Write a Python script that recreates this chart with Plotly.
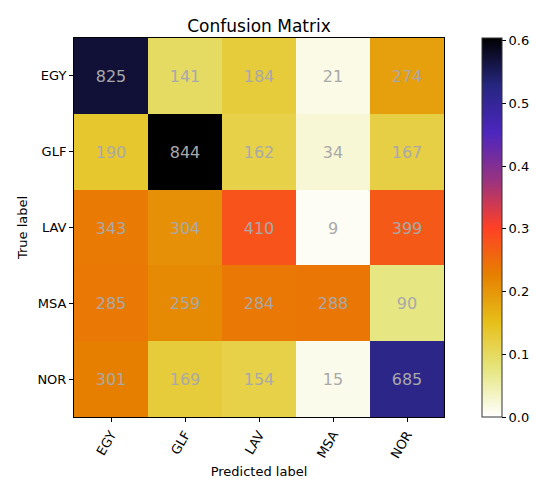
import plotly.graph_objects as go

labels = ["EGY", "GLF", "LAV", "MSA", "NOR"]
counts = [
    [825, 141, 184, 21, 274],
    [190, 844, 162, 34, 167],
    [343, 304, 410, 9, 399],
    [285, 259, 284, 288, 90],
    [301, 169, 154, 15, 685],
]
colorbar_ticks = [0.0, 0.1, 0.2, 0.3, 0.4, 0.5, 0.6]

norm = [[v / sum(row) for v in row] for row in counts]
zmax = max(max(r) for r in norm)

cmrmap_r = [
    [0.0, "rgb(255,255,255)"],
    [0.125, "rgb(230,230,128)"],
    [0.25, "rgb(230,191,26)"],
    [0.375, "rgb(230,128,0)"],
    [0.5, "rgb(255,64,38)"],
    [0.625, "rgb(153,51,128)"],
    [0.75, "rgb(77,38,191)"],
    [0.875, "rgb(38,38,128)"],
    [1.0, "rgb(0,0,0)"],
]

fig = go.Figure(go.Heatmap(
    z=norm, x=labels, y=labels,
    text=counts, texttemplate="%{text}",
    textfont=dict(color="#a9a9a9", size=16, family="DejaVu Sans"),
    colorscale=cmrmap_r, zmin=0, zmax=zmax,
    xgap=0, ygap=0,
    colorbar=dict(
        thickness=20, len=1, lenmode="fraction", x=1.103, xanchor="left",
        y=0.5, yanchor="middle", xpad=0, ypad=0,
        outlinewidth=1, outlinecolor="#333333",
        tickvals=colorbar_ticks, ticktext=[f"{t:.1f}" for t in colorbar_ticks],
        ticks="outside", ticklen=4, tickcolor="black",
        tickfont=dict(size=13, color="black", family="DejaVu Sans"),
    ),
    hoverinfo="skip",
))

fig.update_layout(
    width=536, height=481,
    margin=dict(l=74, r=92, t=38, b=64, autoexpand=False),
    paper_bgcolor="white", plot_bgcolor="white",
    font=dict(family="DejaVu Sans", color="black", size=13),
    title=dict(text="Confusion Matrix", x=0.5, xref="paper", xanchor="center",
               y=1, yref="paper", yanchor="bottom", pad=dict(b=6),
               font=dict(size=17, color="black")),
)
fig.update_xaxes(
    title=dict(text="Predicted label", font=dict(size=13), standoff=6),
    tickangle=-60, ticks="outside", ticklen=4, tickcolor="black",
    showline=True, linecolor="black", linewidth=1, mirror=True,
    tickfont=dict(size=13), showgrid=False, zeroline=False, automargin=False,
)
fig.update_yaxes(
    title=dict(text="True label", font=dict(size=13), standoff=6),
    autorange="reversed", ticks="outside", ticklen=4, tickcolor="black",
    showline=True, linecolor="black", linewidth=1, mirror=True,
    tickfont=dict(size=13), showgrid=False, zeroline=False, automargin=False,
)

fig.write_html(
    "out.html",
    config={"displayModeBar": False},
    post_script="document.body.style.margin='0';document.body.style.padding='0';document.body.style.overflow='hidden';",
)
